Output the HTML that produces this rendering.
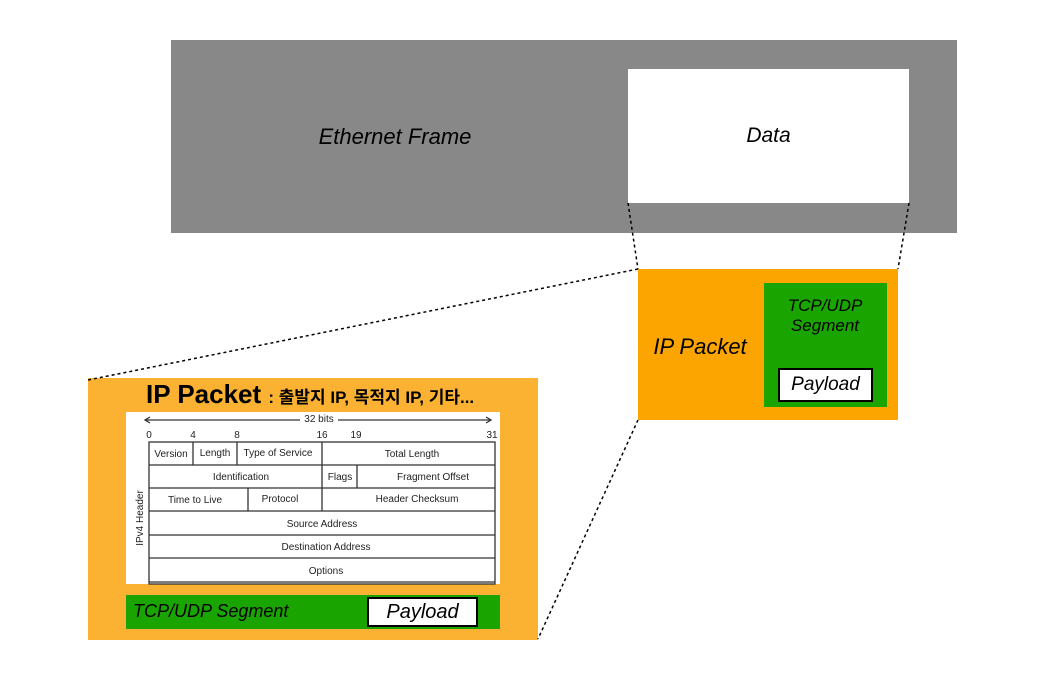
<!DOCTYPE html>
<html><head><meta charset="utf-8"><style>
body{margin:0;width:1043px;height:692px;background:#fff;position:relative;overflow:hidden;font-family:"Liberation Sans","Noto Sans CJK KR",sans-serif}
div{position:absolute;box-sizing:border-box}
.i{font-style:italic}
.c{display:flex;align-items:center;justify-content:center;text-align:center}
.t{font-size:10px;color:#222;position:absolute;transform:translateX(-50%);white-space:nowrap}
</style></head><body>
<div style="left:171px;top:40px;width:786px;height:193px;background:#888"></div>
<div class="c i" style="left:290px;top:120px;width:210px;height:34px;font-size:22px">Ethernet Frame</div>
<div class="c i" style="left:628px;top:69px;width:281px;height:134px;background:#fff;font-size:21px">Data</div>
<div style="left:638px;top:269px;width:260px;height:151px;background:#fca500"></div>
<div class="c i" style="left:645px;top:330px;width:110px;height:34px;font-size:22px">IP Packet</div>
<div style="left:764px;top:283px;width:123px;height:124px;background:#19a400"></div>
<div class="c i" style="left:764px;top:294px;width:122px;height:44px;font-size:17px;line-height:20px">TCP/UDP<br>Segment</div>
<div class="c i" style="left:778px;top:368px;width:95px;height:34px;background:#fff;border:2px solid #000;font-size:19px">Payload</div>

<div style="left:88px;top:378px;width:450px;height:262px;background:#fbb233"></div>
<div style="left:146px;top:379px;width:400px;height:30px;font-size:26px;font-weight:bold;white-space:nowrap">IP Packet <span style="font-size:17px">: 출발지 IP, 목적지 IP, 기타...</span></div>
<div style="left:126px;top:412px;width:374px;height:172px;background:#fff"></div>
<svg style="position:absolute;left:0;top:0" width="1043" height="692">
<g stroke="#000" stroke-width="1.5" stroke-dasharray="3,3" fill="none">
<line x1="628" y1="203" x2="638" y2="269"/><line x1="909" y1="203" x2="898" y2="269"/>
<line x1="638" y1="269" x2="88" y2="380"/><line x1="638" y1="420" x2="538" y2="639"/>
</g>
<g stroke="#333" stroke-width="1.3" fill="none">
<line x1="146" y1="420" x2="300" y2="420"/><line x1="338" y1="420" x2="490" y2="420"/>
<path d="M150 417 L145 420 L150 423 M486 417 L491 420 L486 423"/>
<rect x="149" y="442" width="346" height="142"/>
<line x1="149" y1="465" x2="495" y2="465"/><line x1="149" y1="488" x2="495" y2="488"/>
<line x1="149" y1="511" x2="495" y2="511"/><line x1="149" y1="535" x2="495" y2="535"/>
<line x1="149" y1="558" x2="495" y2="558"/><line x1="149" y1="582" x2="495" y2="582"/>
<line x1="193" y1="442" x2="193" y2="465"/><line x1="237" y1="442" x2="237" y2="465"/>
<line x1="322" y1="442" x2="322" y2="511"/><line x1="357" y1="465" x2="357" y2="488"/>
<line x1="248" y1="488" x2="248" y2="511"/>
</g>
<text x="143" y="518" font-size="10" fill="#222" transform="rotate(-90 143 518)" text-anchor="middle" font-family="Liberation Sans">IPv4 Header</text>
</svg>
<div class="t" style="left:319px;top:414px">32 bits</div>
<div class="t" style="left:149px;top:430px">0</div><div class="t" style="left:193px;top:430px">4</div>
<div class="t" style="left:237px;top:430px">8</div><div class="t" style="left:322px;top:430px">16</div>
<div class="t" style="left:356px;top:430px">19</div><div class="t" style="left:492px;top:430px">31</div>
<div class="t" style="left:171px;top:449px">Version</div><div class="t" style="left:215px;top:448px">Length</div>
<div class="t" style="left:278px;top:448px">Type of Service</div><div class="t" style="left:412px;top:449px">Total Length</div>
<div class="t" style="left:241px;top:472px">Identification</div><div class="t" style="left:340px;top:472px">Flags</div>
<div class="t" style="left:433px;top:472px">Fragment Offset</div>
<div class="t" style="left:195px;top:495px">Time to Live</div><div class="t" style="left:280px;top:494px">Protocol</div>
<div class="t" style="left:417px;top:494px">Header Checksum</div>
<div class="t" style="left:322px;top:519px">Source Address</div>
<div class="t" style="left:326px;top:542px">Destination Address</div>
<div class="t" style="left:326px;top:566px">Options</div>
<div style="left:126px;top:595px;width:374px;height:34px;background:#19a400"></div>
<div class="i" style="left:133px;top:601px;font-size:18px;white-space:nowrap">TCP/UDP Segment</div>
<div class="c i" style="left:367px;top:597px;width:111px;height:30px;background:#fff;border:2px solid #000;font-size:20px">Payload</div>
</body></html>
